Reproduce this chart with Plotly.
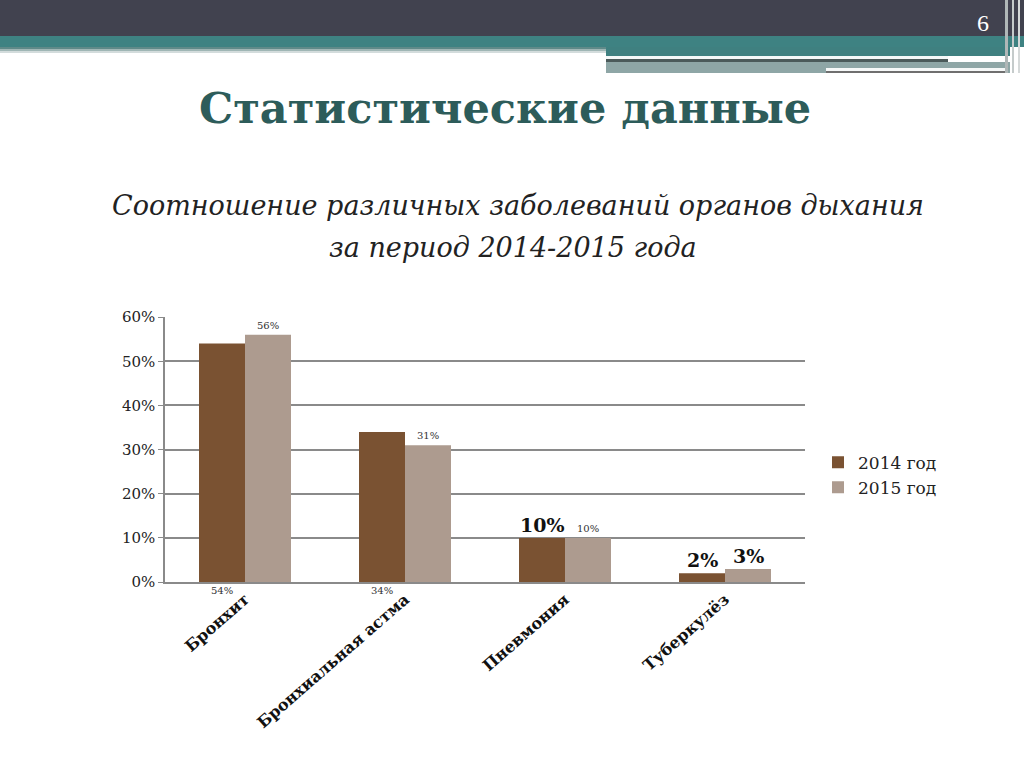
import plotly.graph_objects as go

categories = ["Бронхит", "Бронхиальная астма", "Пневмония", "Туберкулёз"]
series_names = ["2014 год", "2015 год"]
values_2014 = [0.54, 0.34, 0.10, 0.02]
values_2015 = [0.56, 0.31, 0.10, 0.03]
y_ticks = [0, 0.1, 0.2, 0.3, 0.4, 0.5, 0.6]
y_tick_labels = ["0%", "10%", "20%", "30%", "40%", "50%", "60%"]
# label style per point: "small_below", "small_above", "big_above"
label_style_2014 = ["small_below", "small_below", "big_above", "big_above"]
label_style_2015 = ["small_above", "small_above", "small_above", "big_above"]

c2014 = "#7a5232"
c2015 = "#ad9b8f"
SERIF = "DejaVu Serif"

W, H = 1024, 768
x0, x1 = 165, 805
yb, yt = 583, 317

def px(v):
    return v / W

def py(v):
    # target screen y -> paper fraction (compensates the observed page offset/scale)
    yf = (v - 7.84) / 0.98
    return 1 - yf / H

fig = go.Figure()
fig.add_trace(go.Bar(x=categories, y=values_2014, name=series_names[0],
                     marker=dict(color=c2014, line=dict(width=0))))
fig.add_trace(go.Bar(x=categories, y=values_2015, name=series_names[1],
                     marker=dict(color=c2015, line=dict(width=0))))

annotations = []
for vals, styles, shift in [(values_2014, label_style_2014, -23), (values_2015, label_style_2015, 23)]:
    for c, v, s in zip(categories, vals, styles):
        txt = f"{round(v*100)}%"
        if s == "small_below":
            annotations.append(dict(x=c, y=0, xref="x", yref="y", text=txt, showarrow=False,
                                    xshift=shift, yanchor="top", yshift=-1,
                                    font=dict(family=SERIF, size=10, color="#333333")))
        elif s == "small_above":
            annotations.append(dict(x=c, y=v, xref="x", yref="y", text=txt, showarrow=False,
                                    xshift=shift, yanchor="bottom", yshift=2,
                                    font=dict(family=SERIF, size=10, color="#333333")))
        else:
            annotations.append(dict(x=c, y=v, xref="x", yref="y", text="<b>" + txt + "</b>", showarrow=False,
                                    xshift=shift, yanchor="bottom", yshift=0,
                                    font=dict(family=SERIF, size=19, color="#111111")))

# Titles
annotations.append(dict(x=px(505), y=py(107), xref="paper", yref="paper", text="<b>Статистические данные</b>",
                        showarrow=False, xanchor="center", yanchor="middle",
                        font=dict(family=SERIF, size=43, color="#2d5c5a")))
annotations.append(dict(x=px(518), y=py(205), xref="paper", yref="paper",
                        text="<i>Соотношение различных заболеваний органов дыхания</i>",
                        showarrow=False, xanchor="center", yanchor="middle",
                        font=dict(family=SERIF, size=27, color="#222222")))
annotations.append(dict(x=px(513), y=py(247), xref="paper", yref="paper",
                        text="<i>за период 2014-2015 года</i>",
                        showarrow=False, xanchor="center", yanchor="middle",
                        font=dict(family=SERIF, size=27, color="#222222")))
annotations.append(dict(x=px(983), y=py(22), xref="paper", yref="paper", text="6",
                        showarrow=False, xanchor="center", yanchor="middle",
                        font=dict(family="Liberation Serif", size=24, color="#ffffff")))

shapes = []
def rect(xa, ya, xb, yb_, color):
    shapes.append(dict(type="rect", xref="paper", yref="paper", x0=px(xa), x1=px(xb),
                       y0=py(yb_), y1=py(ya), fillcolor=color, line=dict(width=0), layer="below"))

# header decoration
rect(0, -10, 1024, 35, "#41424f")
rect(0, 35, 1024, 46, "#3e8282")
rect(0, 46, 606, 48, "#5f8a89")
rect(0, 48, 606, 50, "#9fb6b5")
rect(0, 50, 606, 52, "#d3dcdc")
rect(606, 46, 1010, 55, "#3f8080")
rect(606, 55, 948, 58, "#f4f8f8")
rect(606, 58, 948, 61, "#4b5a5a")
rect(606, 61, 1010, 72, "#8ea6a6")
rect(826, 67, 1005, 70, "#f6f8f8")
rect(826, 70, 1005, 72, "#6f6f6f")
rect(1005, -10, 1008, 72, "#b0b7b7")
rect(1012, -10, 1014, 72, "#c5cbcb")
rect(1018, -10, 1020, 72, "#d5d9d9")

fig.update_layout(
    width=W, height=H,
    margin=dict(l=0, r=0, t=0, b=0),
    paper_bgcolor="white", plot_bgcolor="white",
    barmode="group", bargap=0.425, bargroupgap=0,
    showlegend=True,
    legend=dict(x=px(818), y=py(445), xanchor="left", yanchor="top",
                font=dict(family=SERIF, size=17, color="#222222"),
                itemwidth=30, tracegroupgap=0, bgcolor="rgba(0,0,0,0)"),
    xaxis=dict(domain=[px(x0), px(x1)], showgrid=False, showline=True,
               linecolor="#8a8a8a", linewidth=1.5, tickangle=-41, ticks="",
               tickfont=dict(family=SERIF, size=16, color="#111111", weight="bold")),
    yaxis=dict(domain=[py(yb), py(yt)], range=[0, 0.6], tickvals=y_ticks, ticktext=y_tick_labels,
               showgrid=True, gridcolor="#8a8a8a", gridwidth=1.5, showline=True,
               linecolor="#8a8a8a", linewidth=1.5, ticks="outside", ticklen=5,
               tickcolor="#8a8a8a", zeroline=False,
               tickfont=dict(family=SERIF, size=15, color="#222222")),
    annotations=annotations,
    shapes=shapes,
)

fig.write_html("out.html")
